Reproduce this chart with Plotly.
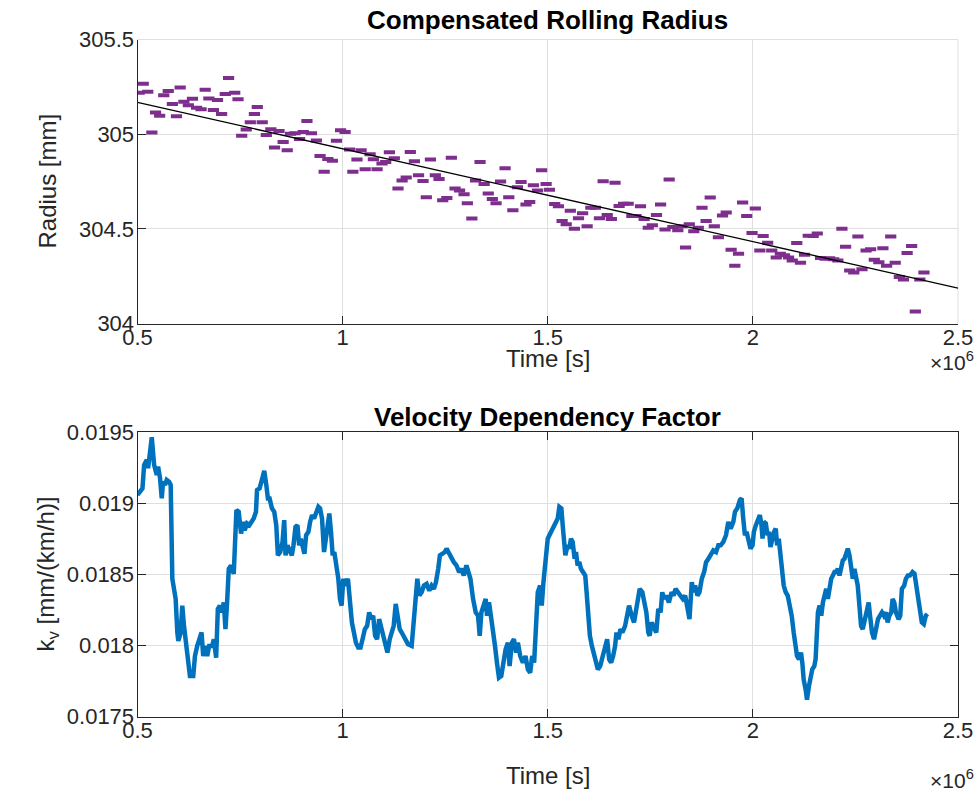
import plotly.graph_objects as go

# ---- Compensated rolling radius samples (time in units of 1e6 s) ----
radius_time = [
    0.504, 0.514, 0.525, 0.535, 0.544, 0.554, 0.564, 0.575, 0.585, 0.595,
    0.604, 0.613, 0.624, 0.634, 0.644, 0.655, 0.665, 0.674, 0.685, 0.695,
    0.705, 0.714, 0.722, 0.737, 0.745, 0.754, 0.765, 0.775, 0.785, 0.792,
    0.804, 0.814, 0.825, 0.834, 0.845, 0.855, 0.865, 0.873, 0.884, 0.895,
    0.904, 0.913, 0.924, 0.936, 0.945, 0.955, 0.964, 0.975, 0.985, 0.995,
    1.006, 1.017, 1.025, 1.035, 1.045, 1.055, 1.067, 1.075, 1.084, 1.096,
    1.105, 1.114, 1.126, 1.135, 1.145, 1.155, 1.165, 1.175, 1.185, 1.196,
    1.204, 1.214, 1.226, 1.235, 1.244, 1.254, 1.265, 1.274, 1.285, 1.296,
    1.304, 1.315, 1.324, 1.335, 1.345, 1.355, 1.365, 1.374, 1.385, 1.396,
    1.405, 1.415, 1.426, 1.435, 1.447, 1.456, 1.465, 1.475, 1.485, 1.496,
    1.504,
    1.517, 1.526, 1.535, 1.545, 1.555, 1.565, 1.575, 1.585, 1.596, 1.605,
    1.616, 1.626, 1.635, 1.645, 1.655, 1.664, 1.674, 1.685, 1.696, 1.705,
    1.715, 1.726, 1.735, 1.745, 1.755, 1.765, 1.775, 1.786, 1.796, 1.805,
    1.817, 1.827, 1.836, 1.845, 1.856, 1.867, 1.876, 1.886, 1.896, 1.906,
    1.916, 1.926, 1.935, 1.947, 1.956, 1.965, 1.975, 1.985, 1.998, 2.006,
    2.017, 2.025, 2.036, 2.046, 2.057, 2.067, 2.077, 2.087, 2.096, 2.107,
    2.116, 2.126, 2.135, 2.147, 2.157, 2.165, 2.176, 2.187, 2.197, 2.207,
    2.217, 2.226, 2.236, 2.246, 2.256, 2.266, 2.276, 2.287, 2.296, 2.307,
    2.317, 2.326, 2.336, 2.347, 2.357, 2.367, 2.376, 2.387, 2.396, 2.407,
    2.417,
]
radius_mm = [
    305.219, 305.266, 305.224, 305.009, 305.115, 305.097, 305.206, 305.228, 305.159, 305.095,
    305.247, 305.171, 305.153, 305.187, 305.139, 305.131, 305.234, 305.189, 305.127, 305.181,
    305.106, 305.212, 305.296, 305.219, 305.184, 304.991, 305.025, 305.063, 305.106, 305.143,
    305.063, 304.996, 305.026, 304.930, 305.017, 304.959, 304.915, 305.002, 305.005, 304.974,
    305.011, 305.070, 305.005, 304.967, 304.885, 304.801, 304.869, 304.859, 304.965, 305.021,
    305.012, 304.919, 304.801, 304.866, 304.915, 304.815, 304.894, 304.868, 304.815, 304.845,
    304.853, 304.905, 304.873, 304.713, 304.755, 304.771, 304.906, 304.857, 304.783, 304.753,
    304.667, 304.866, 304.783, 304.763, 304.651, 304.663, 304.875, 304.713, 304.702, 304.683,
    304.635, 304.554, 304.755, 304.853, 304.737, 304.686, 304.658, 304.635, 304.750, 304.820,
    304.667, 304.598, 304.720, 304.748, 304.628, 304.642, 304.730, 304.702, 304.810, 304.737,
    304.707,
    304.631, 304.619, 304.541, 304.524, 304.596, 304.501, 304.556, 304.582, 304.513, 304.612,
    304.612, 304.556, 304.751, 304.573, 304.552, 304.744, 304.621, 304.633, 304.633, 304.568,
    304.568, 304.619, 304.552, 304.506, 304.519, 304.573, 304.628, 304.496, 304.760, 304.510,
    304.492, 304.513, 304.402, 304.524, 304.487, 304.506, 304.612, 304.541, 304.665, 304.513,
    304.455, 304.570, 304.586, 304.390, 304.305, 304.369, 304.639, 304.568, 304.478, 304.607,
    304.385, 304.462, 304.427, 304.385, 304.349, 304.369, 304.361, 304.348, 304.333, 304.425,
    304.321, 304.363, 304.464, 304.462, 304.475, 304.346, 304.342, 304.344, 304.339, 304.333,
    304.501, 304.406, 304.280, 304.270, 304.459, 304.286, 304.386, 304.392, 304.337, 304.324,
    304.397, 304.305, 304.460, 304.321, 304.245, 304.233, 304.372, 304.409, 304.063, 304.233,
    304.270,
]

# Linear trend of the radius over the shown interval
fit_time = [0.5, 2.5]
fit_radius = [305.168, 304.187]

# ---- Velocity dependency factor k_v (time in units of 1e6 s) ----
kv_time = [
    0.5000, 0.5065, 0.5121, 0.5162, 0.5227, 0.5259, 0.5307, 0.5348, 0.5405, 0.5469,
    0.5502, 0.5550, 0.5591, 0.5623, 0.5671, 0.5712, 0.5769, 0.5809, 0.5849, 0.5890,
    0.5930, 0.5971, 0.5995, 0.6052, 0.6092, 0.6133, 0.6173, 0.6230, 0.6278, 0.6359,
    0.6400, 0.6456, 0.6513, 0.6561, 0.6602, 0.6650, 0.6699, 0.6747, 0.6820, 0.6861,
    0.6917, 0.6958, 0.7006, 0.7055, 0.7103, 0.7144, 0.7184, 0.7225, 0.7281, 0.7346,
    0.7411, 0.7467, 0.7524, 0.7573, 0.7613, 0.7670, 0.7726, 0.7775, 0.7832, 0.7888,
    0.7913, 0.7977, 0.8034, 0.8090, 0.8139, 0.8179, 0.8220, 0.8276, 0.8333, 0.8382,
    0.8422, 0.8479, 0.8535, 0.8576, 0.8608, 0.8657, 0.8705, 0.8762, 0.8802, 0.8851,
    0.8899, 0.8940, 0.8980, 0.9029, 0.9069, 0.9110, 0.9166, 0.9207, 0.9255, 0.9304,
    0.9353, 0.9409, 0.9450, 0.9498, 0.9547, 0.9595, 0.9636, 0.9676, 0.9717, 0.9757,
    0.9797, 0.9854, 0.9895, 0.9935, 0.9975, 1.0016, 1.0064, 1.0129, 1.0178, 1.0226,
    1.0275, 1.0323, 1.0380, 1.0436, 1.0485, 1.0542, 1.0598, 1.0647, 1.0695, 1.0744,
    1.0792, 1.0841, 1.0890, 1.0946, 1.1003, 1.1051, 1.1092, 1.1148, 1.1197, 1.1245,
    1.1294, 1.1343, 1.1391, 1.1440, 1.1521, 1.1593,
    1.1683, 1.1740, 1.1788, 1.1821, 1.1869, 1.1926, 1.1982, 1.2047, 1.2112, 1.2168,
    1.2225, 1.2274, 1.2330, 1.2371, 1.2435, 1.2492, 1.2533, 1.2597, 1.2654, 1.2711,
    1.2775, 1.2840, 1.2897, 1.2953, 1.3018, 1.3067, 1.3115, 1.3180, 1.3244, 1.3301,
    1.3342, 1.3382, 1.3439, 1.3487, 1.3520, 1.3568, 1.3625, 1.3665, 1.3714, 1.3762,
    1.3811, 1.3867, 1.3908, 1.3973, 1.4029, 1.4070, 1.4126, 1.4175, 1.4231, 1.4272,
    1.4329, 1.4393, 1.4458, 1.4515, 1.4571, 1.4620, 1.4668, 1.4717, 1.4757, 1.4814,
    1.4854, 1.4895, 1.4960, 1.5000, 1.5040, 1.5081, 1.5138, 1.5202, 1.5243, 1.5283,
    1.5332, 1.5364, 1.5405, 1.5429, 1.5485, 1.5526, 1.5566, 1.5607, 1.5655, 1.5688,
    1.5728, 1.5769, 1.5809, 1.5866, 1.5914, 1.5947, 1.5987, 1.6027, 1.6076, 1.6125,
    1.6173, 1.6222, 1.6278, 1.6319, 1.6367, 1.6400, 1.6448, 1.6497, 1.6545, 1.6594,
    1.6642, 1.6675, 1.6723, 1.6772, 1.6820, 1.6885, 1.6942, 1.6982, 1.7047, 1.7103,
    1.7144, 1.7192, 1.7241, 1.7306, 1.7370, 1.7403, 1.7451, 1.7484, 1.7532, 1.7589,
    1.7645, 1.7694, 1.7751, 1.7791, 1.7840, 1.7888, 1.7953, 1.8018, 1.8066, 1.8115,
    1.8179,
    1.8228, 1.8293, 1.8350, 1.8406, 1.8455, 1.8511, 1.8552, 1.8592, 1.8649, 1.8698,
    1.8754, 1.8811, 1.8859, 1.8916, 1.8973, 1.9037, 1.9102, 1.9159, 1.9215, 1.9280,
    1.9345, 1.9401, 1.9458, 1.9523, 1.9563, 1.9620, 1.9684, 1.9725, 1.9765, 1.9806,
    1.9846, 1.9903, 1.9943, 1.9992, 2.0024, 2.0073, 2.0129, 2.0170, 2.0210, 2.0235,
    2.0267, 2.0316, 2.0356, 2.0396, 2.0429, 2.0477, 2.0518, 2.0558, 2.0591, 2.0631,
    2.0671, 2.0720, 2.0752, 2.0801, 2.0849, 2.0898, 2.0947, 2.0995, 2.1044, 2.1076,
    2.1125, 2.1173, 2.1205, 2.1238, 2.1286, 2.1319, 2.1367, 2.1400, 2.1448, 2.1497,
    2.1529, 2.1561, 2.1586, 2.1626, 2.1667, 2.1707, 2.1747, 2.1788, 2.1828, 2.1869,
    2.1909, 2.1950, 2.1990, 2.2031, 2.2071, 2.2111, 2.2152, 2.2192, 2.2233, 2.2273,
    2.2314, 2.2354, 2.2395, 2.2435, 2.2476, 2.2516, 2.2556, 2.2597, 2.2637, 2.2678,
    2.2726, 2.2775, 2.2823, 2.2856, 2.2904, 2.2953, 2.3001, 2.3050, 2.3098, 2.3147,
    2.3196, 2.3244, 2.3285, 2.3325, 2.3374, 2.3406, 2.3446, 2.3487, 2.3552, 2.3592,
    2.3632, 2.3689, 2.3729, 2.3778, 2.3827, 2.3891, 2.3940, 2.3988, 2.4021, 2.4069,
    2.4118, 2.4166, 2.4215, 2.4256,
]
kv_value = [
    0.019059, 0.019083, 0.019106, 0.019271, 0.019307, 0.019248, 0.019389, 0.019465, 0.019271, 0.019200,
    0.019259, 0.019177, 0.019035, 0.019153, 0.019130, 0.019165, 0.019153, 0.019130, 0.018470, 0.018399,
    0.018328, 0.018092, 0.018033, 0.018092, 0.018281, 0.018139, 0.018045, 0.017856, 0.017786, 0.017786,
    0.017927, 0.017998, 0.018045, 0.018092, 0.017927, 0.017998, 0.017927, 0.017998, 0.017998, 0.018045,
    0.017915, 0.018257, 0.018281, 0.018234, 0.018304, 0.018116, 0.018304, 0.018540, 0.018564, 0.018505,
    0.018953, 0.018941, 0.018788, 0.018870, 0.018811, 0.018859, 0.018847, 0.018870, 0.018894, 0.018941,
    0.019094, 0.019106, 0.019177, 0.019229, 0.019130, 0.019035, 0.019035, 0.018965, 0.018941, 0.018847,
    0.018635, 0.018658, 0.018729, 0.018882, 0.018635, 0.018705, 0.018670, 0.018635, 0.018705, 0.018835,
    0.018847, 0.018705, 0.018752, 0.018693, 0.018646, 0.018776, 0.018800, 0.018870, 0.018917, 0.018894,
    0.018941, 0.018976, 0.018965, 0.018894, 0.018658, 0.018752, 0.018847, 0.018929, 0.018800, 0.018635,
    0.018658, 0.018564, 0.018470, 0.018328, 0.018281, 0.018470, 0.018422, 0.018470, 0.018304, 0.018163,
    0.018092, 0.018021, 0.017986, 0.017986, 0.018045, 0.018116, 0.018139, 0.018234, 0.018186, 0.018210,
    0.018069, 0.018045, 0.018186, 0.018116, 0.018045, 0.017986, 0.017951, 0.018045, 0.018092, 0.018139,
    0.018293, 0.018210, 0.018116, 0.018092, 0.018045, 0.018010,
    0.017998, 0.018234, 0.018328, 0.018470, 0.018352, 0.018375, 0.018422, 0.018434, 0.018387, 0.018422,
    0.018399, 0.018446, 0.018540, 0.018635, 0.018646, 0.018658, 0.018682, 0.018646, 0.018611, 0.018587,
    0.018564, 0.018517, 0.018540, 0.018493, 0.018564, 0.018517, 0.018470, 0.018328, 0.018234, 0.018210,
    0.018069, 0.018234, 0.018281, 0.018328, 0.018210, 0.018304, 0.018186, 0.018116, 0.017998, 0.017880,
    0.017774, 0.017786, 0.017880, 0.017974, 0.018021, 0.017856, 0.018021, 0.018045, 0.017951, 0.018021,
    0.017927, 0.017880, 0.017927, 0.017833, 0.017809, 0.017927, 0.017880, 0.018186, 0.018375, 0.018422,
    0.018281, 0.018446, 0.018682, 0.018752, 0.018776, 0.018800, 0.018847, 0.018870, 0.018894, 0.018976,
    0.018965, 0.018847, 0.018729, 0.018635, 0.018705, 0.018682, 0.018752, 0.018729, 0.018611, 0.018658,
    0.018564, 0.018587, 0.018540, 0.018517, 0.018493, 0.018375, 0.018234, 0.018069, 0.017998, 0.017951,
    0.017880, 0.017833, 0.017856, 0.017904, 0.017951, 0.018021, 0.018045, 0.017904, 0.017880, 0.017927,
    0.017998, 0.018092, 0.018045, 0.018116, 0.018092, 0.018139, 0.018210, 0.018281, 0.018210, 0.018163,
    0.018234, 0.018328, 0.018399, 0.018375, 0.018281, 0.018234, 0.018092, 0.018069, 0.018163, 0.018116,
    0.018092, 0.018257, 0.018234, 0.018375, 0.018328, 0.018352, 0.018304, 0.018375, 0.018352, 0.018399,
    0.018375,
    0.018352, 0.018328, 0.018352, 0.018234, 0.018186, 0.018446, 0.018375, 0.018422, 0.018352, 0.018375,
    0.018470, 0.018517, 0.018587, 0.018611, 0.018635, 0.018670, 0.018658, 0.018705, 0.018705, 0.018729,
    0.018776, 0.018870, 0.018823, 0.018870, 0.018941, 0.018965, 0.019024, 0.019035, 0.018894, 0.018776,
    0.018800, 0.018729, 0.018682, 0.018705, 0.018800, 0.018847, 0.018894, 0.018917, 0.018847, 0.018752,
    0.018870, 0.018859, 0.018776, 0.018800, 0.018693, 0.018764, 0.018800, 0.018823, 0.018705, 0.018752,
    0.018658, 0.018493, 0.018422, 0.018375, 0.018352, 0.018281, 0.018210, 0.018092, 0.017974, 0.017927,
    0.017904, 0.017951, 0.017880, 0.017762, 0.017691, 0.017620, 0.017715, 0.017786, 0.017833, 0.017856,
    0.017904, 0.018092, 0.018234, 0.018281, 0.018210, 0.018304, 0.018375, 0.018399, 0.018328, 0.018422,
    0.018470, 0.018493, 0.018517, 0.018517, 0.018540, 0.018493, 0.018564, 0.018599, 0.018611, 0.018658,
    0.018682, 0.018635, 0.018564, 0.018470, 0.018540, 0.018493, 0.018422, 0.018281, 0.018139, 0.018116,
    0.018186, 0.018234, 0.018304, 0.018210, 0.018092, 0.018045, 0.018116, 0.018186, 0.018210, 0.018234,
    0.018210, 0.018234, 0.018163, 0.018210, 0.018234, 0.018328, 0.018304, 0.018234, 0.018186, 0.018210,
    0.018399, 0.018422, 0.018470, 0.018493, 0.018493, 0.018517, 0.018505, 0.018422, 0.018328, 0.018234,
    0.018163, 0.018151, 0.018210, 0.018222,
]

# ---- Axis ticks ----
time_ticks = [0.5, 1, 1.5, 2, 2.5]
time_labels = ["0.5", "1", "1.5", "2", "2.5"]
radius_ticks = [304, 304.5, 305, 305.5]
radius_labels = ["304", "304.5", "305", "305.5"]
kv_ticks = [0.0175, 0.018, 0.0185, 0.019, 0.0195]
kv_labels = ["0.0175", "0.018", "0.0185", "0.019", "0.0195"]

# ---- Styling ----
W, H = 978, 796
FONT = "Liberation Sans, Arial, Helvetica, sans-serif"
AX_COLOR = "#262626"
GRID = "#dfdfdf"
PURPLE = "#7E2F8E"
BLUE = "#0072BD"

x_dom = [137.5 / W, 958 / W]
y_dom_top = [1 - 323.5 / H, 1 - 39.5 / H]
y_dom_bot = [1 - 716.7 / H, 1 - 432.3 / H]

fig = go.Figure()

fig.add_trace(go.Scatter(
    x=radius_time, y=radius_mm, mode="markers",
    marker=dict(symbol="line-ew", size=8, color=PURPLE,
                line=dict(color=PURPLE, width=4)),
    xaxis="x", yaxis="y", showlegend=False, hoverinfo="skip",
))
fig.add_trace(go.Scatter(
    x=fit_time, y=fit_radius, mode="lines",
    line=dict(color="black", width=1.3),
    xaxis="x", yaxis="y", showlegend=False, hoverinfo="skip",
))
fig.add_trace(go.Scatter(
    x=kv_time, y=kv_value, mode="lines",
    line=dict(color=BLUE, width=4.5),
    xaxis="x2", yaxis="y2", showlegend=False, hoverinfo="skip",
))

axis_common = dict(
    showline=True, linecolor=AX_COLOR, linewidth=1,
    ticks="inside", ticklen=8, tickwidth=1, tickcolor=AX_COLOR,
    showgrid=True, gridcolor=GRID, gridwidth=1,
    zeroline=False, automargin=False,
    tickfont=dict(family=FONT, size=22, color=AX_COLOR),
)
x_common = dict(axis_common, ticklabelstandoff=-6)
y_common = dict(axis_common, ticklabelstandoff=-2)

fig.update_layout(
    width=W, height=H,
    margin=dict(l=0, r=0, t=0, b=0, pad=0, autoexpand=False),
    paper_bgcolor="white", plot_bgcolor="white",
    xaxis=dict(domain=x_dom, range=[0.5, 2.5], anchor="y",
               tickvals=time_ticks, ticktext=time_labels, mirror=False,
               **x_common),
    yaxis=dict(domain=y_dom_top, range=[304, 305.5], anchor="x",
               tickvals=radius_ticks, ticktext=radius_labels, mirror=False,
               **y_common),
    xaxis2=dict(domain=x_dom, range=[0.5, 2.5], anchor="y2",
                tickvals=time_ticks, ticktext=time_labels, mirror="ticks",
                **x_common),
    yaxis2=dict(domain=y_dom_bot, range=[0.0175, 0.0195], anchor="x2",
                tickvals=kv_ticks, ticktext=kv_labels, mirror="ticks",
                **y_common),
)

# Top panel has no box: its upper and right edges are only grid lines
fig.add_shape(type="line", xref="x domain", yref="y domain",
              x0=0, x1=1, y0=1, y1=1, line=dict(color=GRID, width=1),
              layer="below")
fig.add_shape(type="line", xref="x domain", yref="y domain",
              x0=1, x1=1, y0=0, y1=1, line=dict(color=GRID, width=1),
              layer="below")

xc = (x_dom[0] + x_dom[1]) / 2
label_font = dict(family=FONT, size=24, color=AX_COLOR)
title_font = dict(family=FONT, size=26, color="black")

annotations = [
    dict(text="<b>Compensated Rolling Radius</b>", x=xc, y=1 - 20 / H,
         font=title_font),
    dict(text="<b>Velocity Dependency Factor</b>", x=xc, y=1 - 417 / H,
         font=title_font),
    dict(text="Time [s]", x=xc, y=1 - 358 / H, font=label_font),
    dict(text="Time [s]", x=xc, y=1 - 775 / H, font=label_font),
    dict(text="Radius [mm]", x=47 / W, y=(y_dom_top[0] + y_dom_top[1]) / 2,
         textangle=-90, font=label_font),
    dict(text="k<sub>v</sub> [mm/(km/h)]", x=47 / W,
         y=(y_dom_bot[0] + y_dom_bot[1]) / 2, textangle=-90, font=label_font),
    dict(text="×10<sup>6</sup>", x=976 / W, y=1 - 361 / H, xanchor="right",
         font=dict(family=FONT, size=21, color=AX_COLOR)),
    dict(text="×10<sup>6</sup>", x=976 / W, y=1 - 779 / H, xanchor="right",
         font=dict(family=FONT, size=21, color=AX_COLOR)),
]
for a in annotations:
    a.setdefault("xanchor", "center")
    a.update(xref="paper", yref="paper", yanchor="middle", showarrow=False)
fig.update_layout(annotations=annotations)

fig.write_html("out.html")
